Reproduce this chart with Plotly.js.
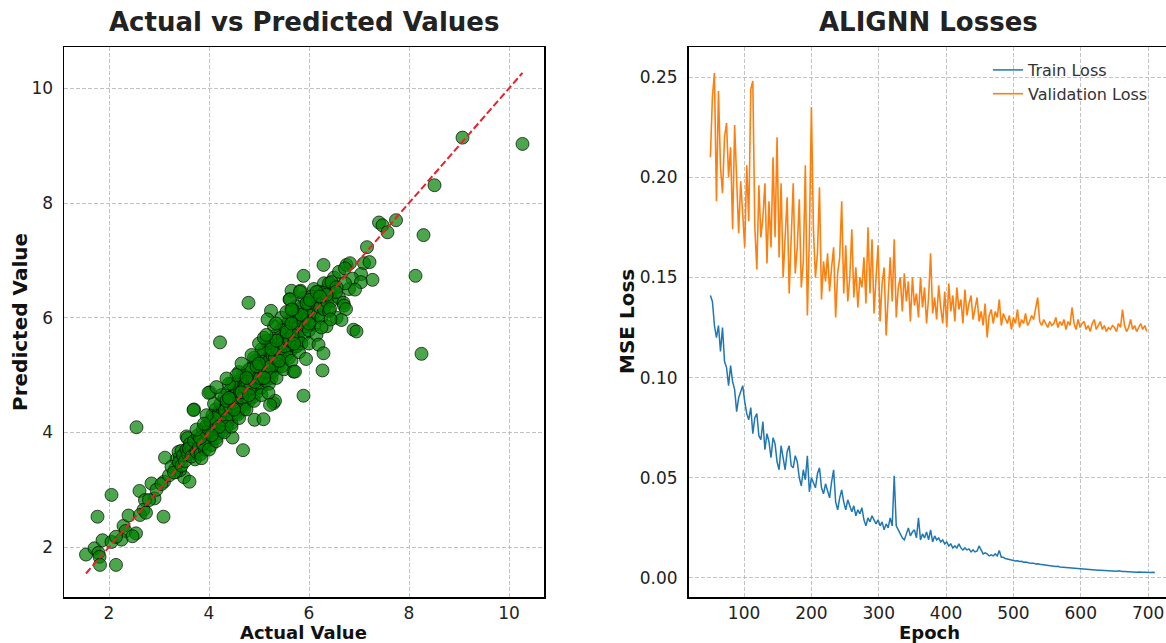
<!DOCTYPE html>
<html>
<head>
<meta charset="utf-8">
<script src="https://cdn.plot.ly/plotly-3.0.1.min.js"></script>
<style>
html, body { margin:0; padding:0; overflow:hidden; background:#fff; }
#chart { width:1172px; height:643px; }
</style>
</head>
<body>
<div id="chart"></div>
<script>
// ---------------- Scatter data (Actual vs Predicted) ----------------
const lowActual = [
  1.54,1.71,1.79,1.81,1.82,2.14,1.87,2.05,1.77,2.05,
  2.29,2.33,2.25,2.14,2.54,2.47,2.39,2.61,2.55,2.91,
  2.72,2.69,2.62,2.74,3.09,2.85,3.10,3.50,3.61,3.35,
  3.42,3.57,3.72,3.32,3.42,3.34,3.39,3.45,3.55,3.57,
  3.73,3.72,3.79,3.12,3.70,4.47,4.68,4.45,4.91,5.09,
  2.80,2.95,3.05,3.20,3.25,3.30,3.40,3.45,3.48,3.52,
  3.55,3.58,3.62,3.66,3.72
];
const lowPredicted = [
  1.87,1.98,1.90,1.83,1.69,1.69,2.12,2.09,2.53,2.91,
  2.37,2.28,2.13,2.18,2.24,2.19,2.55,2.98,4.09,2.85,
  2.82,2.65,2.56,2.60,2.53,3.11,3.14,3.22,3.14,3.53,
  3.57,3.61,3.53,3.36,3.34,3.31,3.66,3.68,3.93,3.90,
  3.86,3.80,3.76,3.56,4.40,3.91,3.69,4.16,4.22,4.23,
  2.82,3.00,3.10,3.25,3.40,3.30,3.48,3.42,3.60,3.50,
  3.70,3.62,3.80,3.70,3.64
];
const coreActual = [
  3.60,3.65,3.70,3.75,3.78,3.80,3.83,3.85,3.88,3.90,
  3.92,3.95,3.97,4.00,4.02,4.04,4.05,4.07,4.08,4.10,
  4.12,4.13,4.15,4.17,4.18,4.20,4.21,4.23,4.25,4.26,
  4.28,4.30,4.31,4.33,4.35,4.36,4.38,4.40,4.41,4.43,
  4.45,4.46,4.48,4.50,4.51,4.53,4.55,4.56,4.58,4.60,
  4.61,4.63,4.65,4.66,4.68,4.70,4.71,4.73,4.75,4.76,
  4.78,4.80,4.81,4.83,4.85,4.86,4.88,4.90,4.91,4.93,
  4.95,4.96,4.98,5.00,5.01,5.03,5.05,5.06,5.08,5.10,
  5.11,5.13,5.15,5.16,5.18,5.20,5.21,5.23,5.25,5.26,
  5.28,5.30,5.31,5.33,5.35,5.36,5.38,5.40,5.41,5.43,
  5.45,5.46,5.48,5.50,5.51,5.53,5.55,5.56,5.58,5.60,
  5.62,5.63,5.65,5.67,5.68,5.70,5.72,5.73,5.75,5.77,
  5.79,5.80,5.82,5.84,5.86,5.88,5.90,5.92,5.94,5.96,
  5.98,6.00,6.02,6.05,6.08,6.10,6.12,6.15,6.18,6.20,
  6.22,6.25,6.28,6.30,6.33,6.36,6.40,6.43,6.46,6.50,
  4.22,4.27,4.32,4.37,4.42,4.47,4.52,4.57,4.62,4.67,
  4.72,4.77,4.82,4.87,4.92,4.97,5.02,5.07,5.12,5.17,
  5.22,5.27,5.32,5.37,5.42,5.47,5.52,5.57,5.62,5.67,
  4.05,4.10,3.95,3.88,3.82,4.14,4.35,4.58,4.80,5.05,
  5.25,5.45,5.60,5.75,5.85,4.45,4.60,4.70,4.90,5.15
];
const corePredicted = [
  3.72,3.58,3.85,3.66,3.95,3.74,3.62,3.88,4.05,3.80,
  3.70,4.12,3.92,3.86,4.20,4.02,3.78,4.30,4.10,3.95,
  4.18,4.40,4.05,4.25,3.98,4.35,4.12,4.50,4.22,4.02,
  4.40,4.28,4.60,4.15,4.45,4.32,4.70,4.20,4.52,4.38,
  4.62,4.28,4.48,4.80,4.42,4.58,4.35,4.72,4.50,4.90,
  4.62,4.45,4.78,4.55,5.00,4.68,4.48,4.85,4.62,5.05,
  4.75,4.55,4.92,4.70,5.12,4.82,4.62,5.00,4.80,5.25,
  4.92,4.70,5.10,4.88,5.30,5.02,4.78,5.20,4.95,5.40,
  5.12,4.90,5.28,5.05,5.50,5.20,4.98,5.35,5.12,5.60,
  5.30,5.08,5.45,5.22,5.70,5.38,5.15,5.55,5.30,5.78,
  5.48,5.25,5.65,5.40,5.85,5.58,5.35,5.72,5.50,5.95,
  5.66,5.42,5.82,5.58,6.02,5.75,5.50,5.90,5.68,6.10,
  5.85,5.60,6.00,5.78,6.18,5.92,5.70,6.08,5.85,6.25,
  6.00,5.78,6.15,5.95,6.30,6.08,5.88,6.22,6.05,6.40,
  6.18,6.00,6.32,6.15,6.48,6.28,6.12,6.40,6.30,6.55,
  4.28,4.15,4.38,4.25,4.45,4.58,4.50,4.40,4.70,4.60,
  4.78,4.85,4.78,4.95,4.88,5.02,4.95,5.10,5.05,5.22,
  5.15,5.35,5.30,5.45,5.40,5.55,5.50,5.62,5.60,5.70,
  4.15,4.25,4.00,3.80,3.90,3.90,4.10,4.32,5.10,5.45,
  4.95,5.15,5.30,5.50,5.55,4.85,5.05,4.40,5.30,5.60
];
const spreadActual = [
  3.75,3.85,3.95,4.00,4.10,4.15,4.25,4.30,4.40,4.45,
  4.55,4.60,4.65,4.75,4.85,4.90,5.00,5.05,5.10,5.20,
  5.30,5.35,5.45,5.50,5.55,5.65,5.75,5.80,5.90,6.00,
  6.10,6.15,6.30,6.35,6.50,6.55,6.60,6.80,6.40,6.60,
  4.20,4.35,4.50,4.65,4.80,4.95,5.10,5.25,5.40,5.55,
  5.70,5.85,6.00,4.05,3.90,4.40,4.75,5.00,5.35,5.65
];
const spreadPredicted = [
  4.05,3.55,4.30,3.70,4.50,3.85,4.65,4.00,4.85,4.10,
  5.00,4.25,5.20,4.40,5.35,4.55,5.55,4.65,5.65,4.85,
  5.85,4.95,6.00,5.10,6.10,5.25,6.20,5.40,6.35,5.55,
  6.50,5.70,6.60,5.85,6.70,6.00,6.35,6.50,6.60,6.80,
  4.10,4.55,4.40,4.70,4.65,5.15,4.95,5.45,5.25,5.75,
  5.55,6.05,5.90,3.95,4.15,4.60,4.95,5.20,5.60,5.90
];
const upperActual = [
  9.07,10.27,8.51,7.40,7.47,7.74,7.57,8.29,7.16,6.29,
  6.75,6.82,7.10,7.21,6.72,8.13,5.89,7.04,6.87,7.04,
  7.27,6.92,6.45,6.72,6.55,6.54,5.65,5.83,5.61,5.67,
  4.79,6.19,6.29,6.35,5.99,6.05,6.69,6.70,6.74,6.42,
  6.65,6.43,6.25,6.89,6.95,5.24,5.17,5.34,8.25,4.22,
  6.19,6.29,6.27,5.94,5.69,5.89,4.02,4.35,5.29,5.32,
  5.19,5.15,5.62,5.65,5.82,5.95,6.02,6.15,6.22,5.72,
  5.22,3.99,4.15,3.69
];
const upperPredicted = [
  9.14,9.03,8.31,7.66,7.61,7.70,7.49,7.44,7.23,6.92,
  6.92,6.95,6.95,6.97,6.86,6.73,6.73,6.76,6.68,6.62,
  6.66,6.49,6.62,6.60,6.53,6.45,6.47,6.47,6.32,6.15,
  6.26,6.45,6.43,6.40,6.25,6.37,6.26,6.21,6.15,6.15,
  5.96,5.97,5.83,5.79,5.76,6.12,5.97,5.90,5.37,5.57,
  5.53,5.38,5.08,5.28,5.06,4.64,4.70,4.94,4.51,4.55,
  4.69,5.70,6.32,6.14,6.45,6.25,6.31,6.45,6.37,5.06,
  4.48,4.69,4.79,4.39
];

// ---------------- Loss data (epoch 50, every 3 epochs) ----------------
const firstEpoch = 50;
const epochStep = 3;
const validationLoss = [
  0.210,0.240,0.252,0.188,0.243,0.205,0.192,0.220,0.227,0.200,
  0.215,0.174,0.226,0.195,0.172,0.198,0.180,0.165,0.206,0.178,
  0.244,0.248,0.175,0.154,0.196,0.170,0.180,0.197,0.157,0.188,
  0.165,0.210,0.170,0.220,0.160,0.197,0.150,0.172,0.190,0.142,
  0.168,0.197,0.152,0.165,0.189,0.145,0.158,0.206,0.131,0.170,
  0.235,0.174,0.150,0.162,0.195,0.139,0.158,0.148,0.162,0.143,
  0.155,0.165,0.130,0.152,0.160,0.188,0.142,0.166,0.138,0.150,
  0.174,0.140,0.155,0.135,0.150,0.145,0.160,0.137,0.175,0.142,
  0.169,0.132,0.150,0.166,0.128,0.147,0.155,0.121,0.140,0.160,
  0.138,0.169,0.130,0.145,0.150,0.133,0.152,0.138,0.148,0.128,
  0.150,0.136,0.142,0.130,0.150,0.135,0.145,0.127,0.140,0.162,
  0.132,0.140,0.129,0.146,0.135,0.127,0.143,0.125,0.147,0.133,
  0.141,0.128,0.145,0.134,0.139,0.127,0.144,0.131,0.137,0.141,
  0.129,0.135,0.140,0.128,0.133,0.126,0.137,0.120,0.131,0.134,
  0.127,0.133,0.130,0.139,0.126,0.132,0.129,0.127,0.131,0.124,
  0.130,0.127,0.134,0.125,0.129,0.127,0.132,0.126,0.128,0.131,
  0.129,0.134,0.140,0.128,0.126,0.129,0.127,0.125,0.128,0.126,
  0.127,0.130,0.125,0.128,0.126,0.129,0.124,0.128,0.126,0.135,
  0.127,0.124,0.129,0.125,0.127,0.128,0.124,0.126,0.123,0.127,
  0.129,0.124,0.126,0.128,0.124,0.126,0.123,0.125,0.124,0.126,
  0.125,0.123,0.127,0.125,0.134,0.126,0.123,0.125,0.129,0.124,
  0.126,0.123,0.125,0.127,0.124,0.126,0.123
];
const trainLoss = [
  0.141,0.138,0.126,0.120,0.126,0.113,0.125,0.108,0.105,0.096,
  0.106,0.098,0.094,0.083,0.090,0.093,0.096,0.088,0.082,0.079,
  0.085,0.072,0.080,0.082,0.071,0.069,0.078,0.064,0.072,0.068,
  0.060,0.070,0.067,0.058,0.054,0.066,0.060,0.054,0.063,0.066,
  0.056,0.055,0.061,0.058,0.050,0.046,0.054,0.049,0.061,0.043,
  0.050,0.047,0.045,0.052,0.055,0.045,0.042,0.047,0.044,0.040,
  0.048,0.054,0.038,0.034,0.040,0.044,0.038,0.034,0.039,0.036,
  0.033,0.036,0.031,0.034,0.032,0.035,0.029,0.026,0.030,0.028,
  0.031,0.029,0.027,0.029,0.026,0.028,0.024,0.027,0.025,0.030,
  0.026,0.051,0.026,0.024,0.022,0.020,0.019,0.022,0.025,0.021,
  0.023,0.024,0.020,0.030,0.019,0.022,0.020,0.023,0.019,0.024,
  0.018,0.021,0.019,0.020,0.018,0.019,0.017,0.018,0.016,0.017,
  0.015,0.016,0.015,0.017,0.015,0.014,0.015,0.014,0.0145,0.013,
  0.014,0.013,0.0135,0.016,0.014,0.012,0.0125,0.012,0.011,0.0115,
  0.011,0.012,0.011,0.0137,0.0103,0.0103,0.0097,0.0094,0.0092,0.0089,
  0.0087,0.0085,0.0086,0.0082,0.0083,0.0079,0.0080,0.0076,0.0075,0.0073,
  0.0074,0.0070,0.0071,0.0068,0.0067,0.0066,0.0064,0.0065,0.0061,0.0062,
  0.0059,0.0057,0.0058,0.0055,0.0054,0.0053,0.0052,0.0051,0.0050,0.0049,
  0.0048,0.0047,0.0046,0.0046,0.0045,0.0044,0.0043,0.0044,0.0042,0.0041,
  0.0041,0.0040,0.0039,0.0039,0.0038,0.0037,0.0036,0.0036,0.0035,0.0035,
  0.0034,0.0033,0.0036,0.0033,0.0032,0.0032,0.0031,0.0031,0.0030,0.0030,
  0.0029,0.0029,0.0030,0.0028,0.0028,0.0028,0.0027,0.0028,0.0027,0.0028,
  0.0027
];

const actualVals = lowActual.concat(coreActual, spreadActual, upperActual);
const predictedVals = lowPredicted.concat(corePredicted, spreadPredicted, upperPredicted);
const allVals = actualVals.concat(predictedVals);
const lo = Math.min(...allVals), hi = Math.max(...allVals);

const W = 1172, H = 643;
const FONT = "DejaVu Sans, sans-serif";
const TXT = "#222222";
const GRID = "#b4b4b4";

const traces = [
  {
    type: "scatter", mode: "markers", x: actualVals, y: predictedVals,
    xaxis: "x", yaxis: "y", showlegend: false,
    marker: { size: 13, color: "rgba(0,128,0,0.7)", line: { color: "rgba(0,0,0,0.85)", width: 0.8 } },
    hoverinfo: "skip"
  },
  {
    type: "scatter", mode: "lines", x: [lo, hi], y: [lo, hi],
    xaxis: "x", yaxis: "y", showlegend: false,
    line: { color: "#e3242b", width: 2, dash: "7px,3px" }
  },
  {
    type: "scatter", mode: "lines", name: "Train Loss",
    x0: firstEpoch, dx: epochStep, y: trainLoss,
    xaxis: "x2", yaxis: "y2",
    line: { color: "#1f77b4", width: 1.5 }
  },
  {
    type: "scatter", mode: "lines", name: "Validation Loss",
    x0: firstEpoch, dx: epochStep, y: validationLoss,
    xaxis: "x2", yaxis: "y2",
    line: { color: "#ff7f0e", width: 1.6 }
  }
];

const axisCommon = {
  showline: true, mirror: true, linecolor: "#000", linewidth: 1.5,
  showgrid: true, gridcolor: GRID, gridwidth: 0.8, griddash: "4px,2px",
  zeroline: false, ticks: "",
  tickfont: { family: FONT, size: 17, color: TXT }
};
const yDom = [46 / H, 596 / H];

const layout = {
  width: W, height: H,
  margin: { l: 0, r: 0, t: 0, b: 0 },
  paper_bgcolor: "#fff", plot_bgcolor: "#fff",
  font: { family: FONT, color: TXT },
  xaxis: Object.assign({}, axisCommon, {
    domain: [64 / W, 544 / W], range: [1.1, 10.7], ticklabelstandoff: 0,
    tickvals: [2, 4, 6, 8, 10], anchor: "y"
  }),
  yaxis: Object.assign({}, axisCommon, {
    domain: yDom, range: [1.13, 10.72], ticklabelstandoff: 6,
    tickvals: [2, 4, 6, 8, 10], anchor: "x"
  }),
  xaxis2: Object.assign({}, axisCommon, {
    domain: [688.5 / W, 1170 / W], range: [17.5, 732.5], ticklabelstandoff: 0,
    tickvals: [100, 200, 300, 400, 500, 600, 700], anchor: "y2"
  }),
  yaxis2: Object.assign({}, axisCommon, {
    domain: yDom, range: [-0.0095, 0.265], ticklabelstandoff: 6,
    tickvals: [0, 0.05, 0.10, 0.15, 0.20, 0.25], tickformat: ".2f", anchor: "x2"
  }),
  legend: {
    x: 988 / W, y: 1 - 53 / H, xanchor: "left", yanchor: "top",
    bgcolor: "rgba(0,0,0,0)", borderwidth: 0,
    font: { family: FONT, size: 16, color: "#333" },
    tracegroupgap: 0
  },
  annotations: [
    { text: "Actual vs Predicted Values", xref: "paper", yref: "paper",
      x: 304 / W, y: 1 - 22 / H, xanchor: "center", yanchor: "middle", showarrow: false,
      font: { family: FONT, size: 26, weight: 700, color: TXT } },
    { text: "ALIGNN Losses", xref: "paper", yref: "paper",
      x: 928 / W, y: 1 - 22 / H, xanchor: "center", yanchor: "middle", showarrow: false,
      font: { family: FONT, size: 26, weight: 700, color: TXT } },
    { text: "Actual Value", xref: "paper", yref: "paper",
      x: 304 / W, y: 1 - 632 / H, xanchor: "center", yanchor: "middle", showarrow: false,
      font: { family: FONT, size: 18, weight: 700, color: "#111" } },
    { text: "Epoch", xref: "paper", yref: "paper",
      x: 929 / W, y: 1 - 632 / H, xanchor: "center", yanchor: "middle", showarrow: false,
      font: { family: FONT, size: 18, weight: 700, color: "#111" } },
    { text: "Predicted Value", xref: "paper", yref: "paper", textangle: -90,
      x: 20 / W, y: 1 - 322 / H, xanchor: "center", yanchor: "middle", showarrow: false,
      font: { family: FONT, size: 20, weight: 700, color: "#111" } },
    { text: "MSE Loss", xref: "paper", yref: "paper", textangle: -90,
      x: 627 / W, y: 1 - 322 / H, xanchor: "center", yanchor: "middle", showarrow: false,
      font: { family: FONT, size: 20, weight: 700, color: "#111" } }
  ]
};

Plotly.newPlot("chart", traces, layout, { displayModeBar: false, staticPlot: true });
</script>
</body>
</html>
